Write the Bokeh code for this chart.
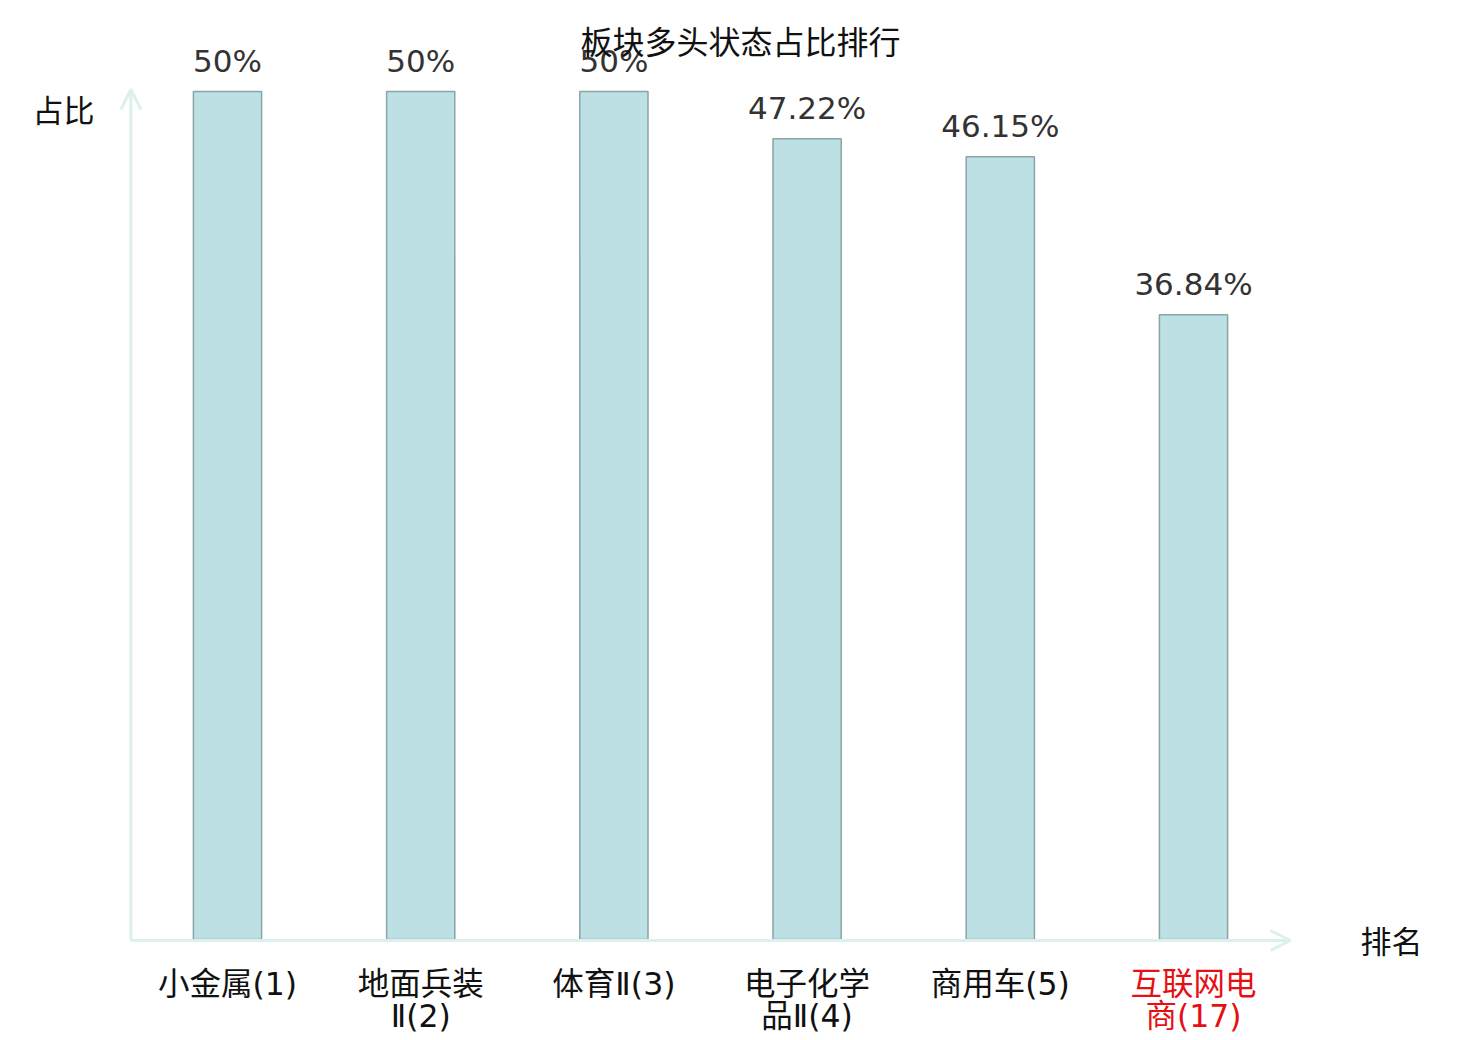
from bokeh.plotting import figure
from bokeh.models import ColumnDataSource, Arrow, OpenHead, Range1d
from bokeh.core.properties import value
from bokeh.embed import file_html
from bokeh.resources import INLINE

# ---- data ----
title_text = "板块多头状态占比排行"
categories_line1 = ["小金属(1)", "地面兵装", "体育Ⅱ(3)", "电子化学", "商用车(5)", "互联网电"]
categories_line2 = ["", "Ⅱ(2)", "", "品Ⅱ(4)", "", "商(17)"]
shares = [50, 50, 50, 47.22, 46.15, 36.84]
highlight = [False, False, False, False, False, True]
y_axis_name = "占比"
x_axis_name = "排名"

# ---- layout (page pixels) ----
W, H = 1472, 1036
X0_PX, X_STEP = 227.0, 193.2       # x pixel of category 0 and category spacing
Y0_PX, Y_SCALE = 939.0, 16.96      # y pixel of value 0 and px per unit

def py(px):  # y pixel -> data y
    return (Y0_PX - px) / Y_SCALE

def pxx(px):  # x pixel -> data x
    return (px - X0_PX) / X_STEP

CJK = value("Noto Sans CJK SC")
MIX = value("'DejaVu Sans', 'Noto Sans CJK SC'")
LAT = value("DejaVu Sans")

p = figure(width=W, height=H, output_backend="svg", toolbar_location=None,
           x_axis_location=None, y_axis_location=None,
           x_range=Range1d(pxx(0), pxx(W)), y_range=Range1d(py(H), py(0)),
           min_border=0, outline_line_color=None, background_fill_color="white")
p.grid.visible = False

xs = list(range(len(shares)))
src = ColumnDataSource(dict(
    x=xs, top=shares,
    label=[f"{v:g}%" for v in shares],
    label_y=[v + 31 / Y_SCALE for v in shares],
    l1=categories_line1, l2=categories_line2,
    color=["#e60f14" if h else "#111111" for h in highlight],
))

# axes (arrows)
axis_color = "#dcf0ed"
p.add_layout(Arrow(x_start=-0.5, y_start=py(Y0_PX + 1), x_end=-0.5, y_end=py(89),
                   line_color=axis_color, line_width=3,
                   end=OpenHead(size=20, line_color=axis_color, line_width=3)))
p.add_layout(Arrow(x_start=-0.5, y_start=py(Y0_PX + 1), x_end=pxx(1290), y_end=py(Y0_PX + 1),
                   line_color=axis_color, line_width=3,
                   end=OpenHead(size=20, line_color=axis_color, line_width=3)))

# bars
p.vbar(x="x", top="top", bottom=0, width=0.353, source=src,
       fill_color="#bce0e3", line_color="#8aa5a6", line_width=1.5)

# value labels
p.text(x="x", y="label_y", text="label", source=src, text_font=LAT,
       text_font_size="31px", text_color="#333333",
       text_align="center", text_baseline="alphabetic")

# category labels (two lines)
p.text(x="x", y=py(983), text="l1", source=src, text_font=MIX,
       text_font_size="31.5px", text_color="color",
       text_align="center", text_baseline="middle")
p.text(x="x", y=py(1015), text="l2", source=src, text_font=MIX,
       text_font_size="31.5px", text_color="color",
       text_align="center", text_baseline="middle")

# axis names and title
p.text(x=[pxx(63)], y=[py(108)], text=[y_axis_name], text_font=CJK,
       text_font_size="31px", text_color="#111111",
       text_align="center", text_baseline="middle")
p.text(x=[pxx(1391)], y=[py(939)], text=[x_axis_name], text_font=CJK,
       text_font_size="31px", text_color="#111111",
       text_align="center", text_baseline="middle")
p.text(x=[pxx(740)], y=[py(39)], text=[title_text], text_font=CJK,
       text_font_size="32px", text_color="#111111",
       text_align="center", text_baseline="middle")

open("out.html", "w").write(file_html(p, INLINE))
